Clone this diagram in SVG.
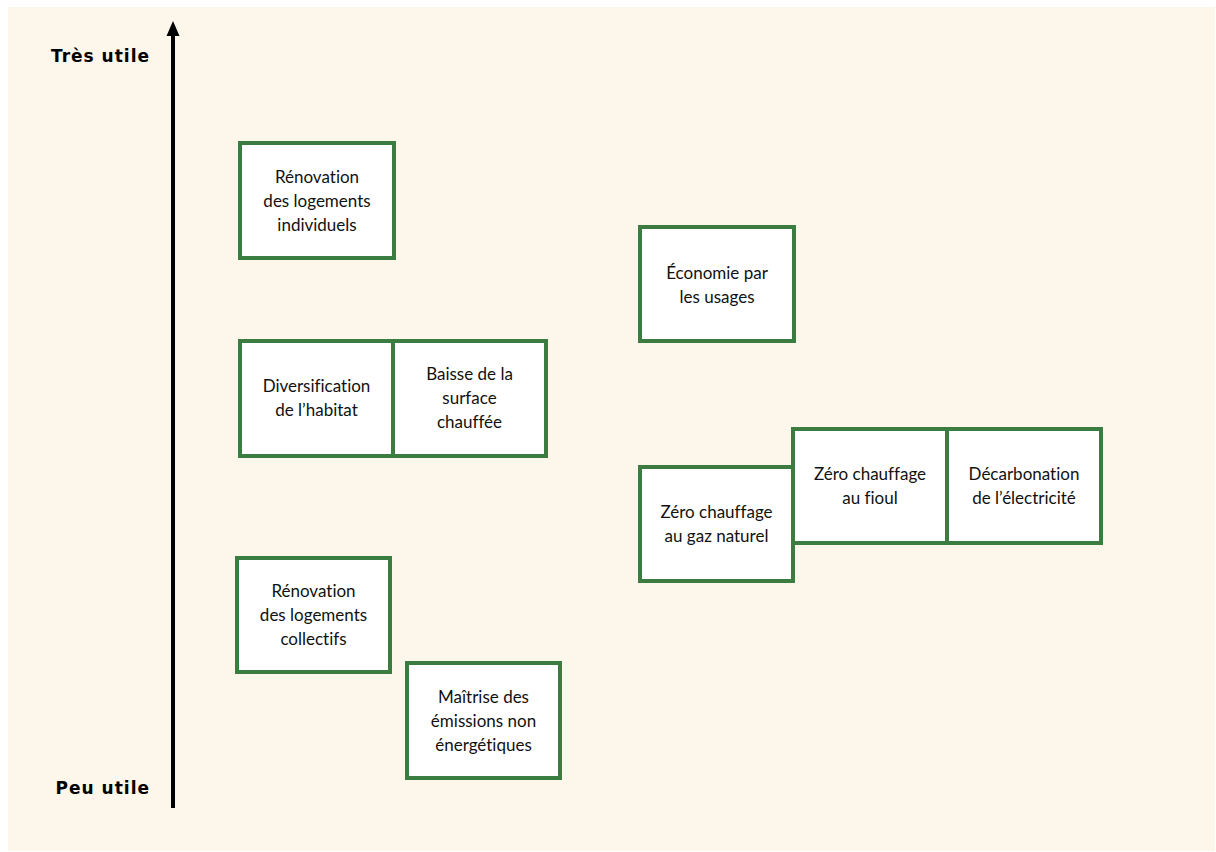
<svg xmlns="http://www.w3.org/2000/svg" width="1216" height="852" viewBox="0 0 1216 852">
<style>
.box{fill:#ffffff;stroke:#3b7d41;stroke-width:4}
.t{font-family:Lato,"Open Sans","Liberation Sans",sans-serif;font-size:17px;fill:#111111;text-anchor:middle;font-variant-ligatures:none;font-feature-settings:"liga" 0}
.ax{font-family:"DejaVu Sans","Liberation Sans",sans-serif;font-weight:bold;font-size:17px;fill:#000;text-anchor:end;letter-spacing:1px}
</style>
<rect x="0" y="0" width="1216" height="852" fill="#ffffff"/>
<rect x="8" y="7" width="1207" height="844" fill="#fdf6eb"/>
<g id="axis">
<line x1="173" y1="808" x2="173" y2="34" stroke="#000" stroke-width="4"/>
<polygon points="173,21 166.5,36 179.5,36" fill="#000"/>
<text class="ax" x="150" y="62">Très utile</text>
<text class="ax" x="150" y="794">Peu utile</text>
</g>
<g id="connectors"></g>
<g id="n1"><rect class="box" x="240" y="143" width="154" height="115"/>
<text class="t" x="317" y="183">Rénovation</text><text class="t" x="317" y="207">des logements</text><text class="t" x="317" y="231">individuels</text></g>
<g id="n2"><rect class="box" x="640" y="227" width="154" height="114"/>
<text class="t" x="717" y="279">Économie par</text><text class="t" x="717" y="303">les usages</text></g>
<g id="n3"><rect class="box" x="240" y="341" width="153" height="115"/>
<text class="t" x="316.5" y="392">Diversification</text><text class="t" x="316.5" y="416">de l’habitat</text></g>
<g id="n4"><rect class="box" x="393" y="341" width="153" height="115"/>
<text class="t" x="469.5" y="380">Baisse de la</text><text class="t" x="469.5" y="404">surface</text><text class="t" x="469.5" y="428">chauffée</text></g>
<g id="n5"><rect class="box" x="640" y="467" width="153" height="114"/>
<text class="t" x="716.5" y="518">Zéro chauffage</text><text class="t" x="716.5" y="542">au gaz naturel</text></g>
<g id="n6"><rect class="box" x="793" y="429" width="154" height="114"/>
<text class="t" x="870" y="480">Zéro chauffage</text><text class="t" x="870" y="504">au fioul</text></g>
<g id="n7"><rect class="box" x="947" y="429" width="154" height="114"/>
<text class="t" x="1024" y="480">Décarbonation</text><text class="t" x="1024" y="504">de l’électricité</text></g>
<g id="n8"><rect class="box" x="237" y="558" width="153" height="114"/>
<text class="t" x="313.5" y="597">Rénovation</text><text class="t" x="313.5" y="621">des logements</text><text class="t" x="313.5" y="645">collectifs</text></g>
<g id="n9"><rect class="box" x="407" y="663" width="153" height="115"/>
<text class="t" x="483.5" y="703">Maîtrise des</text><text class="t" x="483.5" y="727">émissions non</text><text class="t" x="483.5" y="751">énergétiques</text></g>
</svg>
